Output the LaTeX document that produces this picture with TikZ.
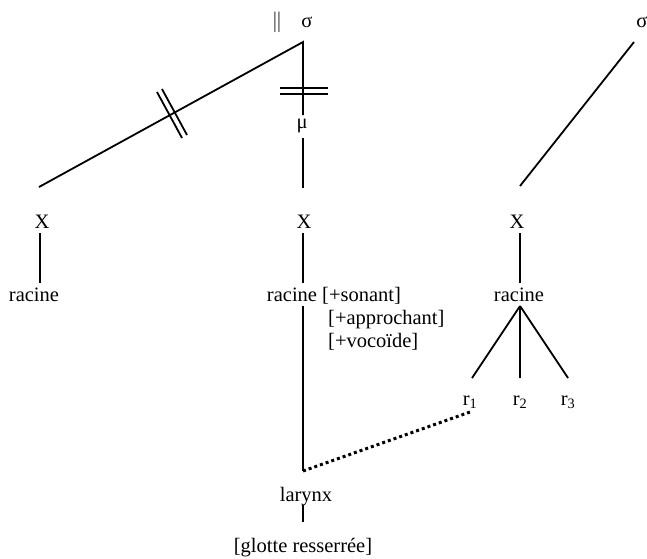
\documentclass[tikz,border=0pt]{standalone}
\usepackage{fontspec}
\setmainfont{Liberation Serif}
\usetikzlibrary{calc}
\begin{document}
\begin{tikzpicture}[x=1pt,y=-1pt,
  lbl/.style={inner sep=0pt,anchor=base,font=\fontsize{20.5}{24}\selectfont},
  edge/.style={line width=1.8pt},
  dots/.style={line width=3pt,dash pattern=on 3pt off 3pt}]
\useasboundingbox (0,0) rectangle (647,558);
% labels
\node[lbl,anchor=center] (bars) at (277,22.5) {$\|$};
\node[lbl] (s1) at (307,27) {σ};
\node[lbl] (s2) at (642,27) {σ};
\node[lbl] (mu) at (302,128) {μ};
\node[lbl] (xl) at (42,228) {X};
\node[lbl] (xm) at (304,228) {X};
\node[lbl] (xr) at (517,228) {X};
\node[lbl] (rl) at (34,301) {racine};
\node[lbl] (rm) at (292,301) {racine};
\node[lbl,anchor=base west] (f1) at (322,301) {[+sonant]};
\node[lbl,anchor=base west] (f2) at (328,324) {[+approchant]};
\node[lbl,anchor=base west] (f3) at (328,347) {[+vocoïde]};
\node[lbl] (rr) at (519,301) {racine};
\node[lbl] (r1) at (470,405) {r\textsubscript{1}};
\node[lbl] (r2) at (520,405) {r\textsubscript{2}};
\node[lbl] (r3) at (568,405) {r\textsubscript{3}};
\node[lbl] (lar) at (306,501) {larynx};
\node[lbl] (gl) at (303,552) {[glotte resserrée]};
% anchor points of connectors
\coordinate (apex) at (303,42);
\coordinate (apex2) at (634,42);
\coordinate (muTop) at (303,115);
\coordinate (muBot) at (303,138);
\coordinate (lxtop) at (39,187);
\coordinate (mxtop) at (303,188);
\coordinate (rxtop) at (520,186);
\coordinate (xlB) at (40,233);
\coordinate (rlT) at (40,283);
\coordinate (xmB) at (303,233);
\coordinate (rmT) at (303,283);
\coordinate (xrB) at (520,233);
\coordinate (rrT) at (520,283);
\coordinate (rmB) at (303,306);
\coordinate (rrB) at (520,306);
\coordinate (b1) at (472,378);
\coordinate (b2) at (520,378);
\coordinate (b3) at (568,378);
\coordinate (lcorner) at (303,471);
\coordinate (r1end) at (470,412);
\coordinate (larB) at (303,505);
\coordinate (glT) at (303,522);
% edges
\draw[edge] (lxtop) -- (apex) -- (muTop);
\draw[edge] (muBot) -- (mxtop);
\draw[edge] (apex2) -- (rxtop);
\draw[edge] (xlB) -- (rlT);
\draw[edge] (xmB) -- (rmT);
\draw[edge] (xrB) -- (rrT);
\draw[edge] (rmB) -- (lcorner);
\draw[edge] (rrB) -- (b1);
\draw[edge] (rrB) -- (b2);
\draw[edge] (rrB) -- (b3);
\draw[edge] (larB) -- (glT);
\draw[dots] (lcorner) -- (r1end);
% double bars
\draw[edge] (280,88) -- (328,88);
\draw[edge] (280,94) -- (328,94);
\draw[edge] (157,92) -- (182,138);
\draw[edge] (162,89) -- (187,135);
\end{tikzpicture}
\end{document}
